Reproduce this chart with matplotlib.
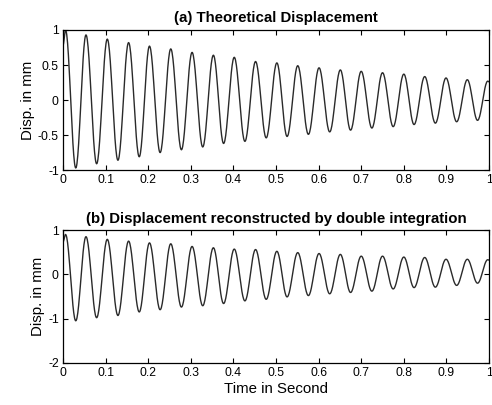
import numpy as np
import matplotlib
matplotlib.use("Agg")
import matplotlib.pyplot as plt

plt.rcParams['font.family'] = ['Liberation Sans', 'DejaVu Sans']

# ---- data: extrema of each trace ----
x_ticks = [0, 0.1, 0.2, 0.3, 0.4, 0.5, 0.6, 0.7, 0.8, 0.9, 1]
x_ticklabels = ['0', '0.1', '0.2', '0.3', '0.4', '0.5', '0.6', '0.7', '0.8', '0.9', '1']

peak_t = [0.006, 0.054, 0.104, 0.154, 0.203, 0.253, 0.303, 0.353, 0.402, 0.452,
          0.502, 0.551, 0.601, 0.651, 0.700, 0.750, 0.800, 0.849, 0.899, 0.949, 0.997]
trough_t = [0.030, 0.079, 0.129, 0.179, 0.228, 0.278, 0.328, 0.377, 0.427, 0.477,
            0.526, 0.576, 0.626, 0.675, 0.725, 0.775, 0.824, 0.874, 0.924, 0.973]

# (a) theoretical
a_start = 0.78
a_peaks = [1.00, 0.93, 0.87, 0.82, 0.77, 0.73, 0.68, 0.64, 0.61, 0.55,
           0.53, 0.49, 0.46, 0.43, 0.41, 0.39, 0.37, 0.335, 0.315, 0.29, 0.27]
a_troughs = [-0.97, -0.91, -0.86, -0.81, -0.75, -0.71, -0.67, -0.62, -0.59, -0.54,
             -0.52, -0.49, -0.455, -0.43, -0.40, -0.38, -0.35, -0.33, -0.31, -0.29]
a_end = 0.26

# (b) reconstructed by double integration
b_start = 0.73
b_peaks = [0.90, 0.85, 0.79, 0.75, 0.71, 0.69, 0.63, 0.60, 0.57, 0.56,
           0.52, 0.49, 0.47, 0.45, 0.41, 0.41, 0.39, 0.38, 0.34, 0.34, 0.33]
b_troughs = [-1.05, -0.98, -0.93, -0.85, -0.80, -0.74, -0.71, -0.66, -0.60, -0.565,
             -0.51, -0.48, -0.44, -0.41, -0.38, -0.33, -0.30, -0.29, -0.25, -0.20]
b_end = 0.32


def trace(start, peaks, troughs, end):
    # knots: start, alternating peaks/troughs, end; smooth half-cosine between knots
    kt = [0.0]
    kv = [start]
    for i in range(len(peak_t)):
        kt.append(peak_t[i]); kv.append(peaks[i])
        if i < len(trough_t):
            kt.append(trough_t[i]); kv.append(troughs[i])
    kt.append(1.0); kv.append(end)
    ts, vs = [], []
    for i in range(len(kt) - 1):
        s = np.linspace(0, 1, 25, endpoint=False)
        w = (1 - np.cos(np.pi * s)) / 2
        ts.append(kt[i] + (kt[i + 1] - kt[i]) * s)
        vs.append(kv[i] + (kv[i + 1] - kv[i]) * w)
    ts.append([kt[-1]]); vs.append([kv[-1]])
    return np.concatenate(ts), np.concatenate(vs)


fig = plt.figure(figsize=(4.92, 4.05), dpi=100)
ax1 = fig.add_axes([0.128, 0.580, 0.866, 0.346])
ax2 = fig.add_axes([0.128, 0.104, 0.866, 0.328])

ta, va = trace(a_start, a_peaks, a_troughs, a_end)
tb, vb = trace(b_start, b_peaks, b_troughs, b_end)

line_color = '#2a2a2a'
ax1.plot(ta, va, color=line_color, lw=1.0)
ax2.plot(tb, vb, color=line_color, lw=1.0)

ax1.set_xlim(0, 1); ax1.set_ylim(-1, 1)
ax1.set_yticks([-1, -0.5, 0, 0.5, 1])
ax1.set_yticklabels(['-1', '-0.5', '0', '0.5', '1'])
ax2.set_xlim(0, 1); ax2.set_ylim(-2, 1)
ax2.set_yticks([-2, -1, 0, 1])
ax2.set_yticklabels(['-2', '-1', '0', '1'])

for ax in (ax1, ax2):
    ax.set_xticks(x_ticks)
    ax.set_xticklabels(x_ticklabels)
    ax.tick_params(direction='in', top=True, right=True, length=3.5, width=0.8,
                   labelsize=8.8, pad=3, colors='black')
    for sp in ax.spines.values():
        sp.set_linewidth(0.9)
    ax.set_ylabel('Disp. in mm', fontsize=10.8, labelpad=2)

ax1.set_title('(a) Theoretical Displacement', fontsize=10.8, fontweight='bold', pad=6)
ax2.set_title('(b) Displacement reconstructed by double integration', fontsize=10.8,
              fontweight='bold', pad=5)
ax2.set_xlabel('Time in Second', fontsize=10.8, labelpad=2)

fig.savefig('out.png', dpi=100)
